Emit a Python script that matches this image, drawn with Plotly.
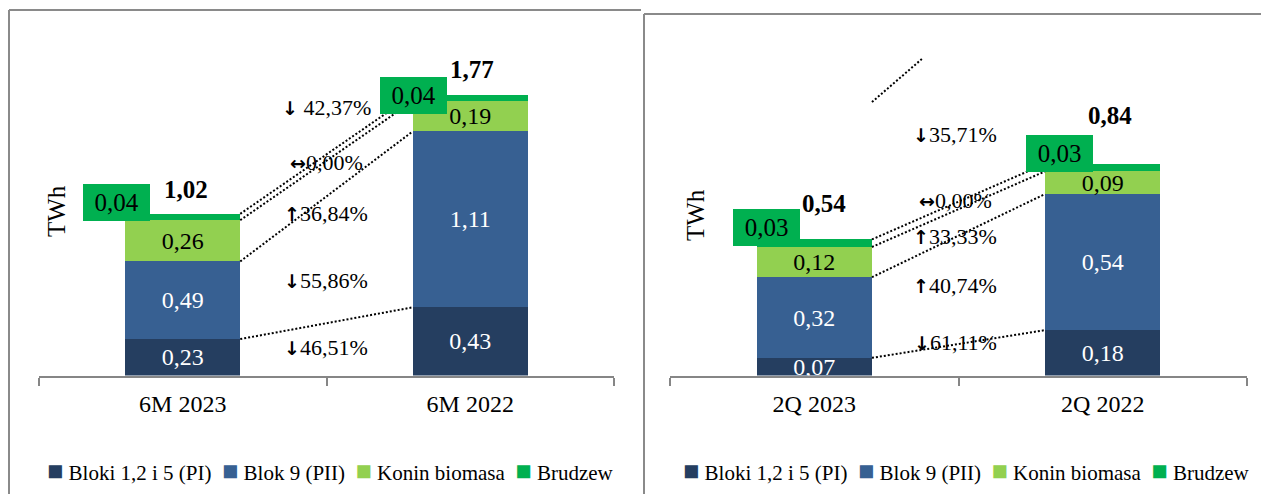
import plotly.graph_objects as go

W, H = 1269, 502
PAGE_MARGIN = 8  # default body margin of the html page
FW, FH = W - 2 * PAGE_MARGIN, H - 2 * PAGE_MARGIN
FONT = "Liberation Serif"

SERIES = ["Bloki 1,2 i 5 (PI)", "Blok 9 (PII)", "Konin biomasa", "Brudzew"]
COLORS = ["#253E60", "#376092", "#92D050", "#00B050"]
TEXT_COLORS = ["white", "white", "black", "black"]

PERIODS_6M = ["6M 2023", "6M 2022"]
VALUES_6M = [[0.23, 0.43], [0.49, 1.11], [0.26, 0.19], [0.04, 0.04]]
CHANGES_6M = ["↓ 42,37%", "↔0,00%", "↑36,84%", "↓55,86%", "↓46,51%"]

PERIODS_2Q = ["2Q 2023", "2Q 2022"]
VALUES_2Q = [[0.07, 0.18], [0.32, 0.54], [0.12, 0.09], [0.03, 0.03]]
CHANGES_2Q = ["↓35,71%", "↔0,00%", "↑33,33%", "↑40,74%", "↓61,11%"]


def px_x(x):
    return (x - PAGE_MARGIN) / FW


def px_y(y):
    return 1 - (y - PAGE_MARGIN) / FH


def fmt(v):
    return f"{v:.2f}".replace(".", ",")


def arrowed(label):
    # heavier arrow glyph in front of the percentage
    arrow = f"<span style=\"font-family:'DejaVu Sans';font-weight:bold;font-size:19px\">{label[0]}</span>"
    return arrow + label[1:]


# layout of each panel, in screen pixels
PANELS = [
    dict(periods=PERIODS_6M, values=VALUES_6M, changes=CHANGES_6M, ax="", x0=39, x1=614,
         ymax=2.306, change_x=326, change_y=[108, 162.5, 213, 280, 347],
         box_shift=[(-66.5, 11), (-56.5, -0.5)], total_shift=[(3, 24), (2, 25)],
         twh=(57, 211), frame=(9, 10, 641), legend_x=330),
    dict(periods=PERIODS_2Q, values=VALUES_2Q, changes=CHANGES_2Q, ax="2", x0=670, x1=1247,
         ymax=1.4504, change_x=955, change_y=[134, 200, 236, 285, 342],
         box_shift=[(-48, 12), (-43.5, 10)], total_shift=[(10, 36), (7, 48)],
         twh=(695, 215), frame=(644, 14, W + 2), legend_x=966),
]
BASE_Y = 375.5
TOP_Y = 10

fig = go.Figure()
shapes = []
annotations = []
axis_color = "#868686"
frame_color = "#8a8a8a"

for p in PANELS:
    xref, yref = "x" + p["ax"], "y" + p["ax"]
    for name, vals, color, tcolor in zip(SERIES, p["values"], COLORS, TEXT_COLORS):
        show_text = name != "Brudzew"
        fig.add_trace(go.Bar(
            x=p["periods"], y=vals, name=name, xaxis=xref, yaxis=yref,
            marker=dict(color=color, line=dict(width=0)),
            text=[fmt(v) for v in vals] if show_text else None,
            textposition="inside", insidetextanchor="middle", constraintext="none",
            textfont=dict(family=FONT, size=24, color=tcolor),
            cliponaxis=True, showlegend=False, hoverinfo="skip",
        ))

    # cumulative tops of every segment
    tops = []
    run = [0.0, 0.0]
    for vals in p["values"]:
        run = [run[0] + vals[0], run[1] + vals[1]]
        tops.append(list(run))

    # dotted connectors between segment tops
    for t in tops:
        shapes.append(dict(type="line", xref=xref, yref=yref, x0=0.2, x1=0.8,
                           y0=t[0], y1=t[1], line=dict(color="black", width=2, dash="2px,2px")))

    totals = tops[-1]
    for i in range(2):
        dx, dy = p["box_shift"][i]
        annotations.append(dict(
            xref=xref, yref=yref, x=i, y=totals[i], xshift=dx, yshift=dy,
            xanchor="center", yanchor="middle",
            text=fmt(p["values"][3][i]), showarrow=False, width=67, height=37,
            bgcolor=COLORS[3], borderpad=0, borderwidth=0,
            font=dict(family=FONT, size=25, color="black"),
        ))
        tx, ty = p["total_shift"][i]
        annotations.append(dict(
            xref=xref, yref=yref, x=i, y=totals[i], xshift=tx, yshift=ty,
            xanchor="center", yanchor="middle",
            text=f"<b>{fmt(round(totals[i], 2))}</b>", showarrow=False,
            font=dict(family=FONT, size=25, color="black"),
        ))

    for label, cy in zip(p["changes"], p["change_y"]):
        annotations.append(dict(
            xref="paper", yref="paper", x=px_x(p["change_x"]), y=px_y(cy),
            xanchor="center", yanchor="middle",
            text=arrowed(label), showarrow=False, font=dict(family=FONT, size=22, color="black"),
        ))

    annotations.append(dict(
        xref="paper", yref="paper", x=px_x(p["twh"][0]), y=px_y(p["twh"][1]),
        xanchor="center", yanchor="middle",
        text="TWh", textangle=-90, showarrow=False, font=dict(family=FONT, size=25, color="black"),
    ))

    items = []
    for name, color in zip(SERIES, COLORS):
        items.append(f'<span style="color:{color};font-size:27px">■</span> {name}')
    annotations.append(dict(
        xref="paper", yref="paper", x=px_x(p["legend_x"]), y=px_y(471),
        xanchor="center", yanchor="middle",
        text="\u00a0\u00a0".join(items), showarrow=False,
        font=dict(family=FONT, size=21, color="black"),
    ))

    fx, fy, fend = p["frame"]
    shapes.append(dict(type="line", xref="paper", yref="paper", x0=px_x(fx), x1=px_x(fend),
                       y0=px_y(fy), y1=px_y(fy), line=dict(color=frame_color, width=2)))
    shapes.append(dict(type="line", xref="paper", yref="paper", x0=px_x(fx), x1=px_x(fx),
                       y0=px_y(fy), y1=-0.05, line=dict(color=frame_color, width=2)))

# stray dotted connector in the 2Q panel
shapes.append(dict(type="line", xref="x2", yref="y2", x0=0.2, x1=0.373, y0=1.085, y1=1.256,
                   line=dict(color="black", width=2, dash="2px,2px")))

layout = dict(
    width=FW, height=FH, margin=dict(l=0, r=0, t=0, b=0),
    paper_bgcolor="white", plot_bgcolor="rgba(0,0,0,0)",
    barmode="stack", bargap=0.6, separators=", ",
    font=dict(family=FONT, color="black"),
    shapes=shapes, annotations=annotations, showlegend=False,
)
for p in PANELS:
    key = p["ax"]
    layout["xaxis" + key] = dict(
        domain=[px_x(p["x0"]), px_x(p["x1"])], anchor="y" + key, type="category",
        range=[-0.5, 1.5], showline=True, linecolor=axis_color, linewidth=2,
        ticks="outside", tickson="boundaries", ticklen=8, tickwidth=2, tickcolor=axis_color,
        tickfont=dict(family=FONT, size=24, color="black"), ticklabelstandoff=6,
        showgrid=False, zeroline=False, fixedrange=True,
    )
    layout["yaxis" + key] = dict(
        domain=[px_y(BASE_Y), px_y(TOP_Y)], anchor="x" + key, range=[0, p["ymax"]],
        showticklabels=False, showgrid=False, zeroline=False, showline=False, ticks="",
        fixedrange=True,
    )
fig.update_layout(**layout)

fig.write_html("out.html")
